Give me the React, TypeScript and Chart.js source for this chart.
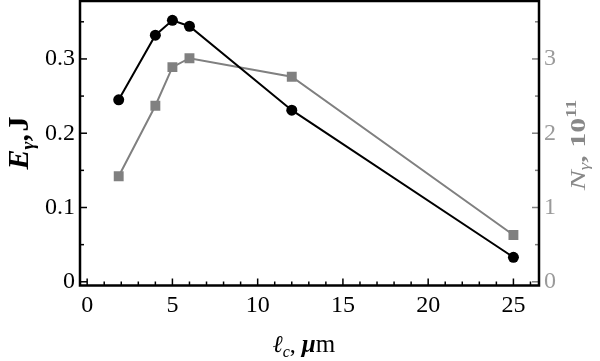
import React, { useEffect, useRef } from "react";
import { Chart, registerables } from "chart.js";

Chart.register(...registerables);

const xValues = [1.85, 4, 5, 6, 12, 25];
const energyJ = [0.245, 0.332, 0.352, 0.344, 0.231, 0.033];
const photons1e11 = [1.42, 2.37, 2.89, 3.01, 2.76, 0.63];

const xTicks = [0, 5, 10, 15, 20, 25];
const xMinor = Array.from({ length: 27 }, (_, i) => i);
const yTicks = [0, 0.1, 0.2, 0.3];
const yTickLabels = ["0", "0.1", "0.2", "0.3"];
const yMinor = [0.05, 0.15, 0.25, 0.35];
const y1Ticks = [0, 1, 2, 3];
const y1TickLabels = ["0", "1", "2", "3"];
const y1Minor = [0.5, 1.5, 2.5, 3.5];

const SERIF = "'Liberation Serif', 'Times New Roman', serif";
const GRAY = "#808080";
const TITLE_GRAY = "#888888";
const LABEL_GRAY = "#9a9a9a";

type Seg = { text: string; font: string; dy?: number };

function drawRich(
  ctx: CanvasRenderingContext2D,
  segs: Seg[],
  x: number,
  y: number,
  rot: number,
  color: string,
  squash = 1
) {
  ctx.save();
  ctx.translate(x, y);
  ctx.rotate(rot);
  ctx.scale(1, squash);
  ctx.fillStyle = color;
  ctx.textBaseline = "alphabetic";
  ctx.textAlign = "left";
  let total = 0;
  const widths = segs.map((s) => {
    ctx.font = s.font;
    const w = ctx.measureText(s.text).width;
    total += w;
    return w;
  });
  let cx = -total / 2;
  segs.forEach((s, i) => {
    ctx.font = s.font;
    ctx.fillText(s.text, cx, s.dy || 0);
    cx += widths[i];
  });
  ctx.restore();
}

const framePlugin = {
  id: "framePlugin",
  afterDraw(chart: any) {
    const { ctx, chartArea } = chart;
    const { left, right, top, bottom } = chartArea;
    const xs = chart.scales.x;
    const ys = chart.scales.y;
    const y1s = chart.scales.y1;
    ctx.save();
    ctx.lineWidth = 1.5;
    ctx.strokeStyle = "#000";
    xMinor.forEach((v) => {
      const px = xs.getPixelForValue(v);
      const len = xTicks.includes(v) ? 7 : 4;
      ctx.beginPath();
      ctx.moveTo(px, bottom);
      ctx.lineTo(px, bottom - len);
      ctx.stroke();
    });
    yTicks.forEach((v) => {
      const py = ys.getPixelForValue(v);
      ctx.beginPath();
      ctx.moveTo(left, py);
      ctx.lineTo(left + 7, py);
      ctx.stroke();
    });
    yMinor.forEach((v) => {
      const py = ys.getPixelForValue(v);
      ctx.beginPath();
      ctx.moveTo(left, py);
      ctx.lineTo(left + 4, py);
      ctx.stroke();
    });
    ctx.strokeStyle = GRAY;
    y1Ticks.forEach((v) => {
      const py = y1s.getPixelForValue(v);
      ctx.beginPath();
      ctx.moveTo(right, py);
      ctx.lineTo(right - 7, py);
      ctx.stroke();
    });
    y1Minor.forEach((v) => {
      const py = y1s.getPixelForValue(v);
      ctx.beginPath();
      ctx.moveTo(right, py);
      ctx.lineTo(right - 4, py);
      ctx.stroke();
    });
    ctx.strokeStyle = "#000";
    ctx.lineWidth = 2.5;
    ctx.strokeRect(left, top, right - left, bottom - top);
    ctx.restore();

    drawRich(
      ctx,
      [
        { text: "E", font: `italic bold 30px ${SERIF}` },
        { text: "γ", font: `italic bold 19px ${SERIF}`, dy: 6 },
        { text: ",\u200aJ", font: `bold 30px ${SERIF}` },
      ],
      28,
      143,
      -Math.PI / 2,
      "#000"
    );
    drawRich(
      ctx,
      [
        { text: "N", font: `italic 30px ${SERIF}` },
        { text: "γ", font: `italic 19px ${SERIF}`, dy: 6 },
        { text: ", 10", font: `bold 30px ${SERIF}` },
        { text: "11", font: `bold 19px ${SERIF}`, dy: -13 },
      ],
      585,
      145,
      -Math.PI / 2,
      TITLE_GRAY,
      0.72
    );
    drawRich(
      ctx,
      [
        { text: "ℓ", font: `italic 24px ${SERIF}` },
        { text: "c", font: `italic 16px ${SERIF}`, dy: 5 },
        { text: ", ", font: `24px ${SERIF}` },
        { text: "μ", font: `italic bold 25px ${SERIF}` },
        { text: "m", font: `25px ${SERIF}` },
      ],
      304,
      352,
      0,
      "#000"
    );
  },
};

export default function App() {
  const ref = useRef<HTMLCanvasElement | null>(null);
  useEffect(() => {
    if (!ref.current) return;
    const chart = new Chart(ref.current, {
      type: "line",
      data: {
        datasets: [
          {
            label: "E",
            data: xValues.map((x, i) => ({ x, y: energyJ[i] })),
            yAxisID: "y",
            borderColor: "#000",
            backgroundColor: "#000",
            borderWidth: 2,
            pointStyle: "circle",
            pointRadius: 5.5,
            pointBorderWidth: 0,
            tension: 0,
          },
          {
            label: "N",
            data: xValues.map((x, i) => ({ x, y: photons1e11[i] })),
            yAxisID: "y1",
            borderColor: GRAY,
            backgroundColor: GRAY,
            borderWidth: 2,
            pointStyle: "rect",
            pointRadius: 7,
            pointBorderWidth: 0,
            tension: 0,
          },
        ],
      },
      options: {
        animation: false,
        responsive: true,
        maintainAspectRatio: false,
        layout: { autoPadding: false, padding: { left: 0, right: 0, top: 1, bottom: 0 } },
        plugins: { legend: { display: false }, tooltip: { enabled: false } },
        scales: {
          x: {
            type: "linear",
            min: -0.42,
            max: 26.5,
            grid: { display: false, drawTicks: false },
            border: { display: false },
            afterBuildTicks: (s: any) => {
              s.ticks = xTicks.map((v) => ({ value: v }));
            },
            afterFit: (s: any) => {
              s.height = 75.5;
              s.paddingLeft = 0;
              s.paddingRight = 0;
            },
            ticks: {
              color: "#000",
              font: { family: SERIF, size: 24 },
              padding: 6,
              maxRotation: 0,
              callback: (v: any) => String(v),
            },
          },
          y: {
            type: "linear",
            position: "left",
            min: -0.005,
            max: 0.378,
            grid: { display: false, drawTicks: false },
            border: { display: false },
            afterBuildTicks: (s: any) => {
              s.ticks = yTicks.map((v) => ({ value: v }));
            },
            afterFit: (s: any) => {
              s.width = 80;
              s.paddingTop = 0;
              s.paddingBottom = 0;
            },
            ticks: {
              color: "#000",
              font: { family: SERIF, size: 24 },
              padding: 5,
              callback: (v: any) => {
                const i = yTicks.findIndex((t) => Math.abs(t - v) < 1e-9);
                return i >= 0 ? yTickLabels[i] : "";
              },
            },
          },
          y1: {
            type: "linear",
            position: "right",
            min: -0.05,
            max: 3.78,
            grid: { display: false, drawTicks: false },
            border: { display: false },
            afterBuildTicks: (s: any) => {
              s.ticks = y1Ticks.map((v) => ({ value: v }));
            },
            afterFit: (s: any) => {
              s.width = 61;
              s.paddingTop = 0;
              s.paddingBottom = 0;
            },
            ticks: {
              color: LABEL_GRAY,
              font: { family: SERIF, size: 24 },
              padding: 5,
              callback: (v: any) => {
                const i = y1Ticks.findIndex((t) => Math.abs(t - v) < 1e-9);
                return i >= 0 ? y1TickLabels[i] : "";
              },
            },
          },
        },
      },
      plugins: [framePlugin],
    } as any);
    return () => chart.destroy();
  }, []);
  return (
    <div style={{ position: "absolute", left: 0, top: 0, width: 600, height: 361, background: "#fff" }}>
      <canvas ref={ref} />
    </div>
  );
}
